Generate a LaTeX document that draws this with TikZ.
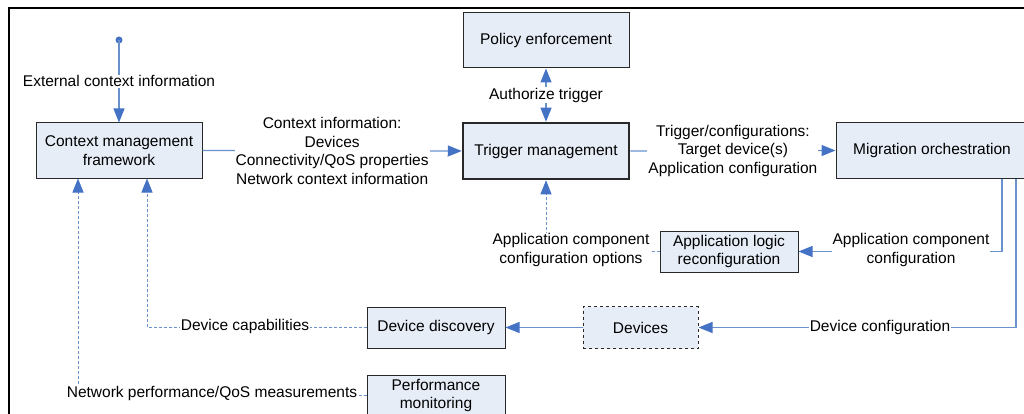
\documentclass[tikz,border=0pt]{standalone}
\usepackage{fontspec}
\setmainfont{Liberation Sans}
\usetikzlibrary{arrows.meta}
\definecolor{boxfill}{RGB}{230,237,247}
\definecolor{lineblue}{RGB}{105,146,204}
\definecolor{tipblue}{RGB}{68,114,196}
\definecolor{boxline}{RGB}{40,40,40}
\begin{document}
\begin{tikzpicture}[x=1pt,y=-1pt,
  font=\fontsize{15.5}{18.5}\selectfont,
  box/.style={draw=boxline, line width=1pt, fill=boxfill, align=center, inner sep=0pt},
  tip/.style={-{Triangle[length=14pt,width=11pt,color=tipblue]}},
  flow/.style={draw=lineblue, line width=1.2pt, tip},
  dflow/.style={flow, line width=0.9pt, dash pattern=on 3pt off 2pt},
  lab/.style={fill=white, align=center, inner sep=1pt, text=black}]
\clip (0,0) rectangle (1024,414);
\draw[line width=2.8pt] (9,8) rectangle (1060,450);

% boxes
\node[box, minimum width=166pt, minimum height=55pt] (cmf) at (119,150.5) {Context management\\framework};
\node[box, minimum width=166pt, minimum height=55pt] (pol) at (546,40.5) {Policy enforcement};
\node[box, line width=2.5pt, minimum width=166pt, minimum height=56pt] (trig) at (546,151) {Trigger management};
\node[box, minimum width=192pt, minimum height=55pt] (mig) at (932,150.5) {Migration orchestration};
\node[box, minimum width=138pt, minimum height=41pt] (alr) at (729,251.5) {Application logic\\reconfiguration};
\node[box, dashed, minimum width=115pt, minimum height=42pt] (dev) at (640.5,327.5) {Devices};
\node[box, minimum width=138pt, minimum height=41pt] (dd) at (436,327.5) {Device discovery};
\node[box, minimum width=138pt, minimum height=41pt] (pm) at (436,395.5) {Performance\\monitoring};

% external input
\coordinate (ext) at (119,40);
\fill[tipblue] (ext) circle (3.5pt);
\draw[flow] (ext) -- (cmf.north) node[lab, midway] {External context information};

% context -> trigger
\draw[flow] (cmf.east) -- (trig.west)
  node[lab, midway] {Context information:\\Devices\\Connectivity/QoS properties\\Network context information};

% policy <-> trigger
\draw[flow, {Triangle[length=14pt,width=11pt,color=tipblue]}-{Triangle[length=14pt,width=11pt,color=tipblue]}] (pol.south) -- (trig.north)
  node[lab, midway] {Authorize trigger};

% trigger -> migration
\draw[flow] (trig.east) -- (mig.west)
  node[lab, midway] {Trigger/configurations:\\Target device(s)\\Application configuration};

% migration -> app logic
\coordinate (a1) at (1002,251);
\draw[flow] (mig.south -| a1) |- (alr.east);
\node[lab] at (911,250) {Application component\\configuration};

% migration -> devices
\coordinate (a2) at (1016,327);
\draw[flow] (mig.south -| a2) |- (dev.east);
\node[lab] at (880,327) {Device configuration};

% app logic -> trigger (dashed)
\draw[dflow] (alr.west) -| (trig.south);
\node[lab] at (571,250) {Application component\\configuration options};

% devices -> device discovery
\draw[flow] (dev.west) -- (dd.east);

% device discovery -> context (dashed)
\coordinate (c1) at (147,178);
\draw[dflow] (dd.west) -| (cmf.south -| c1);
\node[lab] at (245,326) {Device capabilities};

% performance monitoring -> context (dashed)
\coordinate (c2) at (78,178);
\draw[dflow] (pm.west) -| (cmf.south -| c2);
\node[lab] at (212,393) {Network performance/QoS measurements};
\end{tikzpicture}
\end{document}
